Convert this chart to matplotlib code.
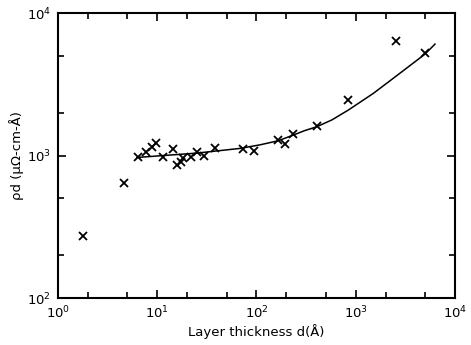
import matplotlib
matplotlib.use("Agg")
import matplotlib.pyplot as plt
from matplotlib.ticker import LogLocator, NullFormatter

plt.rcParams["font.family"] = ["DejaVu Sans"]

thickness = [1.8, 4.66, 6.45, 7.8, 8.85, 9.7, 11.5, 14.4, 15.8, 17.2, 18.3,
             22.0, 24.9, 29.8, 38.2, 72.6, 94.4, 163, 195, 232, 410, 836,
             2545, 4953]
rho_d = [272, 638, 981, 1064, 1153, 1218, 970, 1107, 853, 899, 955,
         970, 1052, 997, 1122, 1112, 1082, 1284, 1199, 1409, 1611, 2449,
         6397, 5215]

# fitted curve, sampled from the figure
curve_d = [6.25, 25.1, 68.2, 108, 165, 235, 308, 404, 576, 841, 1503,
           2213, 4985, 6285]
curve_rho_d = [970, 1041, 1123, 1189, 1270, 1393, 1500, 1592, 1781, 2086,
               2732, 3349, 5153, 6057]

fig = plt.figure(figsize=(4.71, 3.45), dpi=100)
ax = fig.add_axes([0.123, 0.136, 0.843, 0.826])

ax.plot(curve_d, curve_rho_d, color="black", lw=1.1)
ax.plot(thickness, rho_d, "x", color="black", ms=5.5, mew=1.3)

ax.set_xscale("log")
ax.set_yscale("log")
ax.set_xlim(1, 1e4)
ax.set_ylim(1e2, 1e4)

for axis in (ax.xaxis, ax.yaxis):
    axis.set_minor_locator(LogLocator(base=10, subs=[2, 5]))
    axis.set_minor_formatter(NullFormatter())

ax.tick_params(which="both", direction="in", top=True, right=True,
               labelsize=9.5, width=1.2)
ax.tick_params(which="major", length=6, pad=5)
ax.tick_params(which="minor", length=4)
for s in ax.spines.values():
    s.set_linewidth(1.5)

ax.set_xlabel("Layer thickness d(Å)", fontsize=9.5, labelpad=2)
ax.set_ylabel("ρd (μΩ-cm-Å)", fontsize=9.5, labelpad=2)

plt.savefig("out.png", dpi=100)
